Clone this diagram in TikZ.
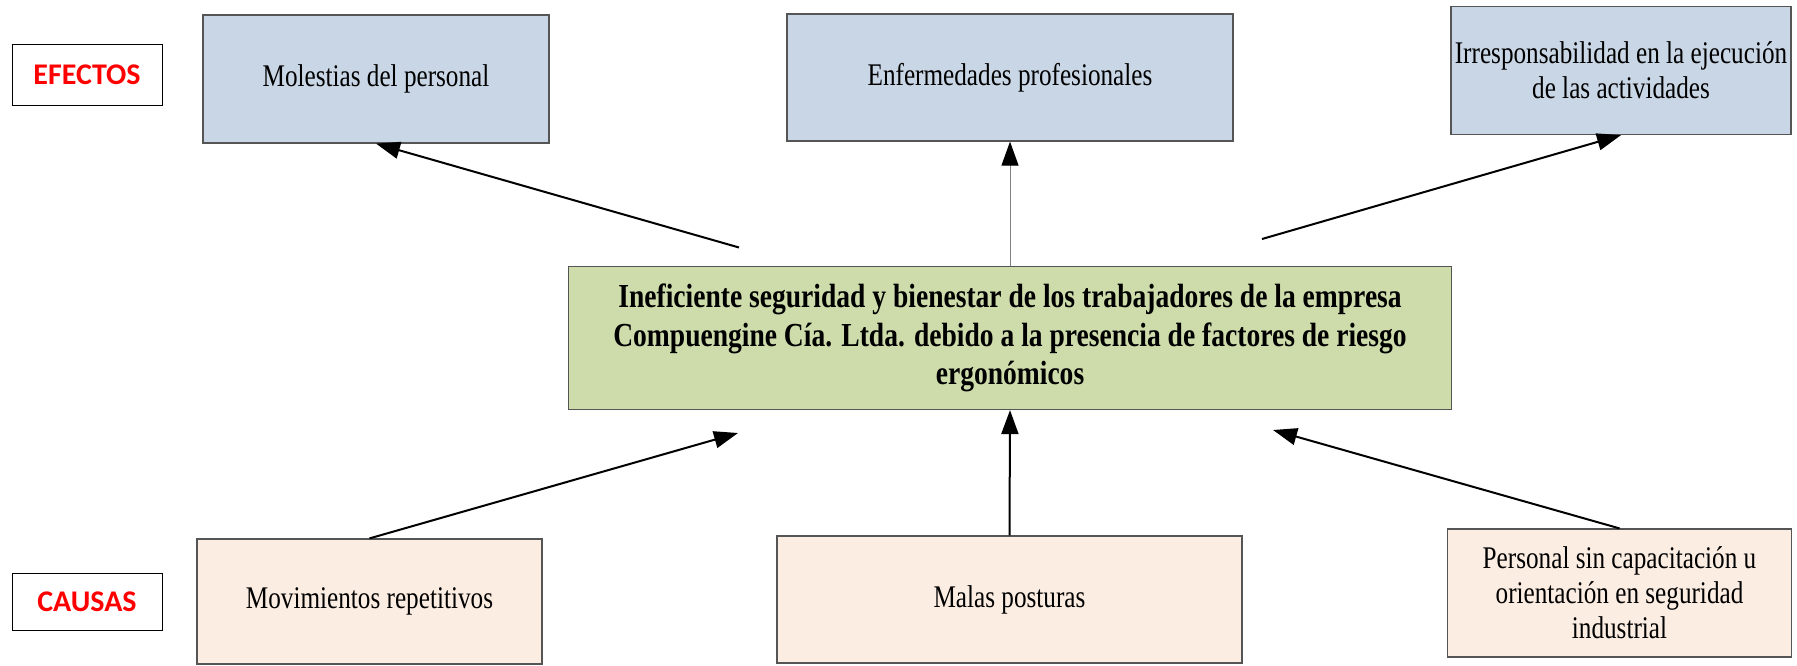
\documentclass[tikz,border=0pt]{standalone}
\usepackage{fontspec}
\setmainfont{Liberation Serif}[FakeStretch=0.8]
\newfontfamily\problemfont{Liberation Serif}[FakeStretch=0.82]
\newfontfamily\tagfont{Carlito}
\usetikzlibrary{positioning, arrows.meta}
\definecolor{effectblue}{RGB}{201,214,229}
\definecolor{problemgreen}{RGB}{205,220,170}
\definecolor{causepeach}{RGB}{252,237,226}
\definecolor{boxgray}{RGB}{85,85,85}
\newcommand{\txtsize}{\fontsize{15.75}{17.5}\selectfont}

\begin{document}
\begin{tikzpicture}[x=0.5pt, y=-0.5pt, >={Triangle[length=12pt, width=8.5pt]},
	box/.style={draw=boxgray, line width=0.6pt, align=center, inner sep=0pt, font=\txtsize},
	effect/.style={box, fill=effectblue},
	cause/.style={box, fill=causepeach},
	problem/.style={box, fill=problemgreen, minimum width=441.5pt, minimum height=71.5pt, font=\problemfont\bfseries\fontsize{16.8}{19.2}\selectfont},
	tag/.style={draw=black, line width=0.5pt, minimum width=75pt, text=red, font=\tagfont\bfseries\fontsize{15}{17}\selectfont},
	link/.style={->, line width=1pt}]
	\useasboundingbox (0, 0) rectangle (1797, 665);

	\node[tag, minimum height=30.5pt] (efectos) at (87, 74.5) {EFECTOS};
	\node[tag, minimum height=28.5pt] (causas) at (87, 601.7) {CAUSAS};

	\node[effect, minimum width=173pt, minimum height=64pt] (molestias) at (376, 79) {Molestias del personal};
	\node[effect, minimum width=223pt, minimum height=63.5pt] (enfermedades) at (1010, 77.5) {Enfermedades profesionales};
	\node[effect, minimum width=170pt, minimum height=64pt] (irresp) at (1621, 70.5) {Irresponsabilidad en la ejecución\\de las actividades};

	\node[problem] (problema) at (1010, 338) {Ineficiente seguridad y bienestar de los trabajadores de la empresa\\Compuengine Cía. Ltda. debido a la presencia de factores de riesgo\\ergonómicos};

	\node[cause, minimum width=172.5pt, minimum height=62.5pt] (movimientos) at (369.5, 601.5) {Movimientos repetitivos};
	\node[cause, minimum width=232.5pt, minimum height=63.5pt] (posturas) at (1009.5, 599.5) {Malas posturas};
	\node[cause, minimum width=172pt, minimum height=64pt] (capacitacion) at (1619.5, 593) {Personal sin capacitación u\\orientación en seguridad\\industrial};

	% free ends of the slanted arrows
	\coordinate (molestias-tail) at (739, 247.5);
	\coordinate (irresp-tail) at (1262, 239);
	\coordinate (movimientos-head) at (738, 433);
	\coordinate (capacitacion-head) at (1273, 430);

	\draw[link] (molestias-tail) -- (molestias.south);
	\draw[-{Triangle[length=12pt, width=8.5pt, black]}, draw=gray, line width=0.5pt] (problema.north) -- (enfermedades.south);
	\draw[link] (irresp-tail) -- (irresp.south);
	\draw[link] (movimientos.north) -- (movimientos-head);
	\draw[link] (posturas.north) -- (problema.south);
	\draw[link] (capacitacion.north) -- (capacitacion-head);
\end{tikzpicture}
\end{document}
